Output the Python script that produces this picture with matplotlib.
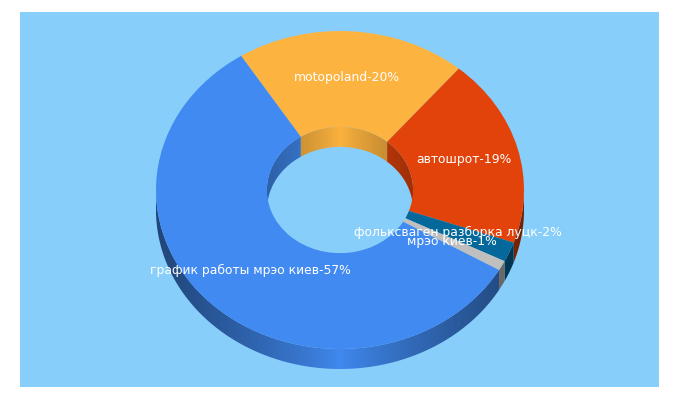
import numpy as np
import matplotlib
matplotlib.use('Agg')
import matplotlib.pyplot as plt
from matplotlib.colors import to_rgb
from matplotlib.patches import Polygon

# data
keywords = ['motopoland', 'автошрот', 'фольксваген разборка луцк', 'мрэо киев', 'график работы мрэо киев']
shares = [20, 19, 2, 1, 57]
colours = ['#FDB33F', '#E2430A', '#04689A', '#BFBFBF', '#418AF1']

background = '#87CEFA'
start = -32.5   # degrees clockwise from 12 o'clock, on the unsquashed circle
hole = 0.397
depth = 20 / 159

fig = plt.figure(figsize=(6.8, 4), dpi=100, facecolor='white')

bg = fig.add_axes([20 / 680, 13 / 400, 639 / 680, 375 / 400])
bg.set_facecolor(background)
bg.set_xticks([])
bg.set_yticks([])
for s in bg.spines.values():
    s.set_visible(False)

# unit circle squashed to an ellipse, 184 x 159 px centred at (340, 190)
ax = fig.add_axes([0, 0, 1, 1])
ax.patch.set_alpha(0)


def wall(a1, a2, colour, r, fade, lo, hi):
    # side of the donut, shaded left to right like the original
    a1, a2 = max(a1, lo), min(a2, hi)
    if a2 <= a1:
        return
    t = np.radians(np.linspace(a1, a2, 120))
    x = r * np.sin(t)
    y = r * np.cos(t)
    pts = np.r_[np.c_[x, y], np.c_[x, y - depth][::-1]]
    poly = Polygon(pts, closed=True, transform=ax.transData)
    xs = np.linspace(-r, r, 500)
    shade = 1 - fade * (np.abs(xs) / r) ** 0.8
    img = np.outer(shade, to_rgb(colour)).reshape(1, 500, 3)
    im = ax.imshow(img, extent=(-r, r, -1.3, 1.3), aspect='auto', zorder=0, interpolation='bilinear')
    im.set_clip_path(poly)


edges = start + np.r_[0, np.cumsum(shares)] / sum(shares) * 360
for i, c in enumerate(colours):
    wall(edges[i], edges[i + 1], c, 1, 0.5, 90, 270)
    wall(edges[i], edges[i + 1], c, hole, 0.3, -90, 90)
    wall(edges[i] - 360, edges[i + 1] - 360, c, hole, 0.3, -90, 90)

ax.pie(shares, colors=colours, startangle=90 - start, counterclock=False, radius=1,
       wedgeprops=dict(width=1 - hole, linewidth=0))

ax.set_aspect('auto')
ax.set_xlim(-340 / 184, 340 / 184)
ax.set_ylim(-210 / 159, 190 / 159)
ax.axis('off')

# labels sit where the original put them, in pixels from the top left
label_px = [(347, 78), (463.5, 160), (458, 232), (452, 242), (250.5, 270)]
for k, p, (px, py) in zip(keywords, shares, label_px):
    fig.text(px / 680, 1 - py / 400, '{}-{}%'.format(k, p), color='white', fontsize=8.95,
             family='DejaVu Sans', ha='center', va='center')

fig.savefig('out.png', dpi=100)
